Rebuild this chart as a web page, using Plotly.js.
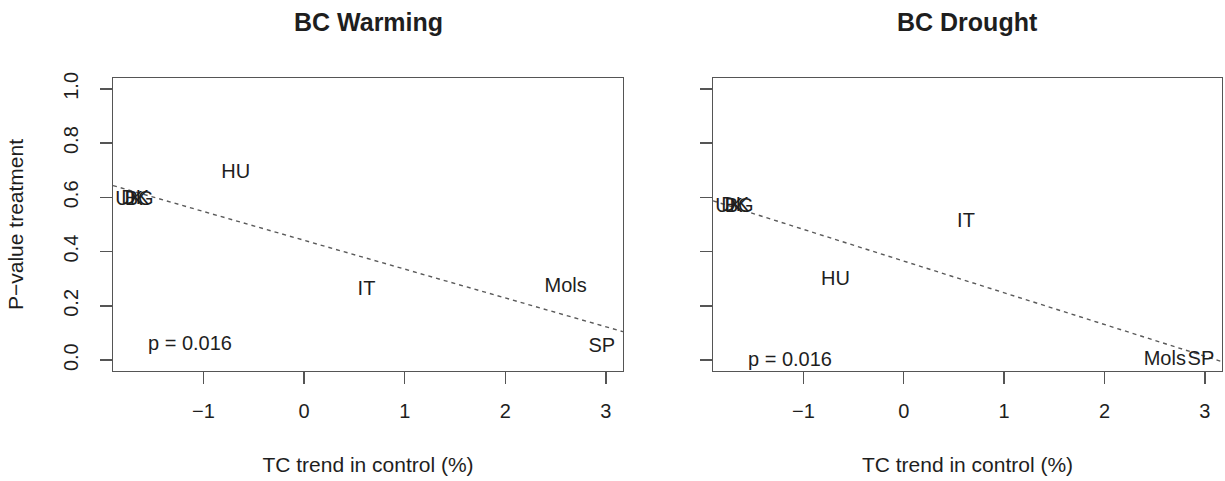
<!DOCTYPE html>
<html>
<head>
<meta charset="utf-8">
<script src="https://cdn.plot.ly/plotly-3.0.1.min.js"></script>
<style>
  html, body { margin: 0; padding: 0; background: #fff; }
  #chart { width: 1225px; height: 481px; }
</style>
</head>
<body>
<div id="chart"></div>
<script>
// Sites and their total-carbon trend in the control plots (%)
const sites = ['UK', 'DK', 'BG', 'HU', 'IT', 'Mols', 'SP'];
const controlTrend = [-1.74, -1.68, -1.64, -0.68, 0.62, 2.60, 2.96];

// P-values of the treatment effect at each site
const pWarming = [0.59, 0.595, 0.59, 0.69, 0.26, 0.27, 0.05];
const pDrought = [0.565, 0.57, 0.565, 0.295, 0.51, 0.0, 0.0];

const panelTitles = ['BC Warming', 'BC Drought'];
const pLabel = 'p = 0.016';
const yTickVals = [0, 0.2, 0.4, 0.6, 0.8, 1.0];
const yTickText = ['0.0', '0.2', '0.4', '0.6', '0.8', '1.0'];
const xTickVals = [-1, 0, 1, 2, 3];

const xRange = [-1.9, 3.17];
const yRange = [-0.04, 1.04];

// ordinary least-squares fit y = a + b x
function lsFit(x, y) {
  const n = x.length;
  const mx = x.reduce((s, v) => s + v, 0) / n;
  const my = y.reduce((s, v) => s + v, 0) / n;
  let sxy = 0, sxx = 0;
  for (let i = 0; i < n; i++) {
    sxy += (x[i] - mx) * (y[i] - my);
    sxx += (x[i] - mx) * (x[i] - mx);
  }
  const b = sxy / sxx;
  return { a: my - b * mx, b: b };
}

const ink = '#1e1e1e';
const frame = '#555555';
const font = 'Liberation Sans, Arial, sans-serif';
const fs = 20;

function panelTraces(yVals, xa, ya) {
  const fit = lsFit(controlTrend, yVals);
  return [
    {
      type: 'scatter', mode: 'lines', xaxis: xa, yaxis: ya,
      x: xRange, y: xRange.map(v => fit.a + fit.b * v),
      line: { color: '#5a5a5a', width: 1.4, dash: '4px,4px' },
      hoverinfo: 'skip', showlegend: false
    },
    {
      type: 'scatter', mode: 'text', xaxis: xa, yaxis: ya,
      x: controlTrend, y: yVals, text: sites,
      textposition: 'middle center',
      textfont: { family: font, size: fs, color: ink },
      cliponaxis: false, showlegend: false
    }
  ];
}

const traces = [
  ...panelTraces(pWarming, 'x', 'y'),
  ...panelTraces(pDrought, 'x2', 'y2')
];

const W = 1225, H = 481;
const yDom = [(H - 371) / H, (H - 78) / H];

function xAxis(dom) {
  return {
    domain: dom, range: xRange, tickvals: xTickVals,
    ticks: 'outside', ticklen: 12, tickwidth: 1.4, tickcolor: frame,
    showline: true, mirror: true, linecolor: frame, linewidth: 1.4,
    showgrid: false, zeroline: false, fixedrange: true,
    ticklabelstandoff: 10,
    tickfont: { family: font, size: fs, color: ink },
    title: { text: 'TC trend in control (%)', standoff: 36,
             font: { family: font, size: 21, color: ink } }
  };
}

function yAxis(anchor, labels) {
  return {
    domain: yDom, range: yRange, anchor: anchor,
    tickvals: yTickVals, ticktext: yTickText, showticklabels: labels,
    tickangle: -90,
    ticks: 'outside', ticklen: 12, tickwidth: 1.4, tickcolor: frame,
    showline: true, mirror: true, linecolor: frame, linewidth: 1.4,
    showgrid: false, zeroline: false, fixedrange: true,
    ticklabelstandoff: 14,
    tickfont: { family: font, size: fs, color: ink }
  };
}

const xa1 = xAxis([113 / W, 623 / W]);
const xa2 = xAxis([713 / W, 1222 / W]);
xa2.anchor = 'y2';
const ya1 = yAxis('x', true);
ya1.title = { text: 'P\u2212value treatment', standoff: 30,
              font: { family: font, size: 21, color: ink } };
const ya2 = yAxis('x2', false);

const annotations = [
  { text: panelTitles[0], xref: 'x', x: (xRange[0] + xRange[1]) / 2 },
  { text: panelTitles[1], xref: 'x2', x: (xRange[0] + xRange[1]) / 2 }
].map(a => Object.assign(a, {
  yref: 'paper', y: (H - 22) / H, yanchor: 'middle', xanchor: 'center',
  showarrow: false,
  font: { family: font, size: 25, color: ink, weight: 'bold' }
}));

annotations.push(
  { text: pLabel, xref: 'x', yref: 'y', x: -1.13, y: 0.063, showarrow: false,
    font: { family: font, size: fs, color: ink } },
  { text: pLabel, xref: 'x2', yref: 'y2', x: -1.13, y: 0.004, showarrow: false,
    font: { family: font, size: fs, color: ink } }
);

const layout = {
  width: W, height: H,
  margin: { l: 0, r: 0, t: 0, b: 0, autoexpand: false },
  paper_bgcolor: '#ffffff', plot_bgcolor: '#ffffff',
  showlegend: false,
  xaxis: xa1, yaxis: ya1, xaxis2: xa2, yaxis2: ya2,
  annotations: annotations
};

Plotly.newPlot('chart', traces, layout, { displayModeBar: false, staticPlot: true });
</script>
</body>
</html>
